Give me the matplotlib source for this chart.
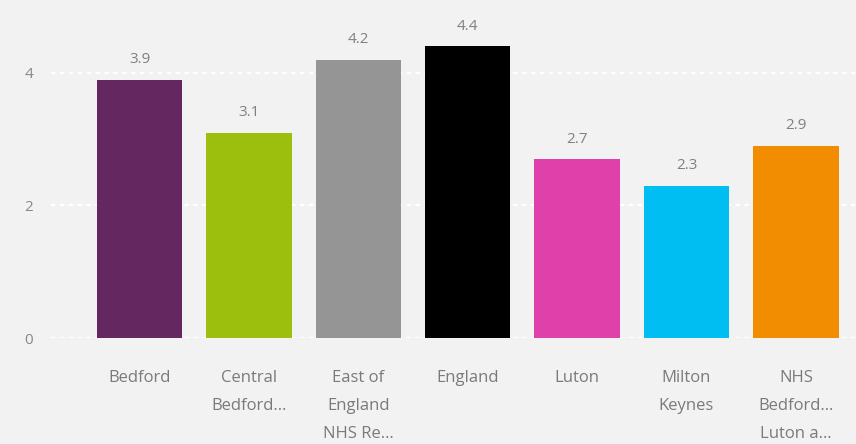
import matplotlib.pyplot as plt
import numpy as np

categories = ['Bedford', 'Central\nBedford…', 'East of\nEngland\nNHS Re…', 'England',
              'Luton', 'Milton\nKeynes', 'NHS\nBedford…\nLuton a…']
values = [3.9, 3.1, 4.2, 4.4, 2.7, 2.3, 2.9]
colors = ['#64275f', '#9bbf0c', '#959595', '#000000', '#e040aa', '#00bef2', '#f28c00']
y_ticks = [0, 2, 4]

plt.rcParams['font.family'] = ['Open Sans', 'DejaVu Sans']

W, H = 856, 444
fig = plt.figure(figsize=(W / 100, H / 100), dpi=100, facecolor='#f2f2f2')
# axes box in pixels: left 51, bottom at y=338 from top, to right/top edges
ax = fig.add_axes([51 / W, (H - 338) / H, (W - 51) / W, 338 / H])
ax.set_facecolor('#f2f2f2')

x = np.arange(len(categories))
bars = ax.bar(x, values, width=0.78, color=colors, zorder=3)
for rect, v in zip(bars, values):
    ax.annotate(f'{v}', (rect.get_x() + rect.get_width() / 2, v),
                xytext=(0, 9), textcoords='offset points',
                ha='center', va='bottom', fontsize=11, color='#808080')

ax.set_xlim(-0.81, 6.55)
ax.set_ylim(0, 5.1)
ax.set_yticks(y_ticks)
ax.yaxis.grid(True, color='white', linestyle=(0, (2, 2)), linewidth=1.6)
ax.set_axisbelow(True)

for spine in ax.spines.values():
    spine.set_visible(False)
ax.tick_params(length=0)
ax.set_yticklabels([str(t) for t in y_ticks], fontsize=11, color='#888888')
ax.tick_params(axis='y', pad=13)

ax.set_xticks(x)
ax.set_xticklabels(categories, fontsize=12, color='#7a7a7a', linespacing=2.0, va='top')
ax.tick_params(axis='x', pad=23)

fig.savefig('out.png', dpi=100, facecolor=fig.get_facecolor())
